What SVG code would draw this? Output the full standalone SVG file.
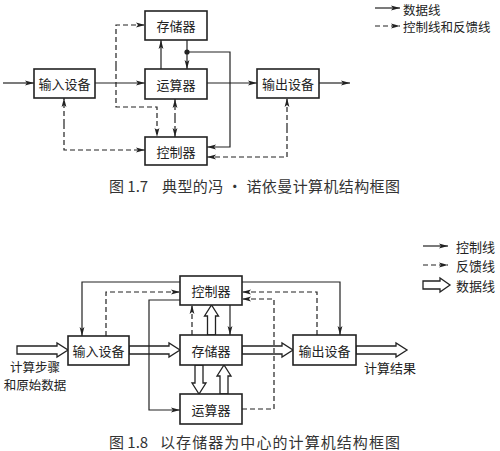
<svg xmlns="http://www.w3.org/2000/svg" width="500" height="451" viewBox="0 0 500 451">
<style>
.box{fill:#fff;stroke:#222;stroke-width:1.6}
.lbl{font-family:"Noto Sans CJK SC","Liberation Sans",sans-serif;font-size:13px;fill:#222;text-anchor:middle;dominant-baseline:central}
.txt{font-family:"Noto Sans CJK SC","Liberation Sans",sans-serif;font-size:13px;fill:#222;dominant-baseline:central}
.cap{font-family:"Noto Sans CJK SC","Liberation Serif",serif;font-size:15px;fill:#333;dominant-baseline:central}
.ln{fill:none;stroke:#222;stroke-width:1.2}
.sol{marker-end:url(#ah)}
.dash{stroke-dasharray:5 3}
.hol{fill:#fff;stroke:#222;stroke-width:1.3;stroke-linejoin:miter}
</style>
<defs>
<marker id="ah" markerUnits="userSpaceOnUse" markerWidth="10" markerHeight="6" refX="9" refY="3" orient="auto">
<path d="M0,0.6 L9,3 L0,5.4 L2,3 z" fill="#222"/>
</marker>
</defs>

<!-- Figure 1.7 -->
<g id="connectors-fig17">
<path class="ln sol" d="M3,83 H34"/>
<path class="ln sol" d="M95,83 H145"/>
<path class="ln sol" d="M207,83 H257"/>
<path class="ln sol" d="M319,83 H350"/>
<path class="ln sol" d="M161,69 V40"/>
<path class="ln sol" d="M187,40 V69"/>
<circle cx="187" cy="52" r="2.6" fill="#222"/>
<path class="ln sol" d="M187,52 H230 V147 H207"/>
<path class="ln dash sol" d="M116,66 V25 H145"/>
<path class="ln dash sol" d="M116,66 V107 H157 V137"/>
<path class="ln dash sol" d="M175,118 V99"/>
<path class="ln dash sol" d="M175,118 V137"/>
<path class="ln dash sol" d="M64,124 V98"/>
<path class="ln dash sol" d="M64,124 V150 H145"/>
<path class="ln dash sol" d="M287,128 V98"/>
<path class="ln dash sol" d="M287,128 V157 H207"/>
</g>
<g id="mem1"><rect class="box" x="145" y="11" width="62" height="29"/><text class="lbl" x="176" y="25.5">存储器</text></g>
<g id="alu1"><rect class="box" x="145" y="69" width="62" height="30"/><text class="lbl" x="176" y="84">运算器</text></g>
<g id="ctl1"><rect class="box" x="145" y="137" width="62" height="28"/><text class="lbl" x="176" y="151">控制器</text></g>
<g id="in1"><rect class="box" x="34" y="69" width="61" height="29"/><text class="lbl" x="64.5" y="83.5">输入设备</text></g>
<g id="out1"><rect class="box" x="257" y="69" width="62" height="29"/><text class="lbl" x="288" y="83.5">输出设备</text></g>
<g id="legend1">
<path class="ln sol" d="M375,8 H400"/>
<text class="txt" x="403" y="9" style="font-size:12.5px">数据线</text>
<path class="ln dash sol" d="M375,26 H400"/>
<text class="txt" x="403" y="26.5" style="font-size:12.5px">控制线和反馈线</text>
</g>
<text class="cap" x="109" y="185">图 1.7</text>
<text class="cap" x="162" y="185" textLength="238" lengthAdjust="spacing">典型的冯 · 诺依曼计算机结构框图</text>

<!-- Figure 1.8 -->
<g id="connectors-fig18">
<polygon class="hol" points="17,346 57,346 57,343 68,350 57,357 57,354 17,354"/>
<polygon class="hol" points="129,346 169,346 169,343 180,350 169,357 169,354 129,354"/>
<polygon class="hol" points="242,346 282,346 282,343 293,350 282,357 282,354 242,354"/>
<polygon class="hol" points="356,346 396,346 396,343 407,350 396,357 396,354 356,354"/>
<polygon class="hol" points="207.5,335 207.5,316 204.5,316 211.5,305 218.5,316 215.5,316 215.5,335"/>
<polygon class="hol" points="195,365 195,383 192,383 199,394 206,383 203,383 203,365"/>
<polygon class="hol" points="220,394 220,376 217,376 224,365 231,376 228,376 228,394"/>
<path class="ln sol" d="M230,305 V335"/>
<path class="ln dash sol" d="M192,335 V305"/>
<path class="ln sol" d="M180,282 H82 V336"/>
<path class="ln dash sol" d="M106,336 V292 H180"/>
<path class="ln sol" d="M180,300 H149 V410 H180"/>
<path class="ln sol" d="M242,282 H340 V335"/>
<path class="ln dash sol" d="M317,335 V292 H242"/>
<path class="ln dash sol" d="M242,409 H274 V299 H242"/>
</g>
<g id="ctl2"><rect class="box" x="180" y="276" width="62" height="29"/><text class="lbl" x="211" y="290.5">控制器</text></g>
<g id="mem2"><rect class="box" x="180" y="335" width="62" height="30"/><text class="lbl" x="211" y="350">存储器</text></g>
<g id="alu2"><rect class="box" x="180" y="394" width="62" height="30"/><text class="lbl" x="211" y="409">运算器</text></g>
<g id="in2"><rect class="box" x="68" y="336" width="61" height="29"/><text class="lbl" x="98.5" y="350.5">输入设备</text></g>
<g id="out2"><rect class="box" x="293" y="335" width="63" height="30"/><text class="lbl" x="324.5" y="350">输出设备</text></g>
<text class="lbl" x="35" y="366" style="font-size:12.5px">计算步骤</text>
<text class="lbl" x="35" y="384" style="font-size:12.5px">和原始数据</text>
<text class="txt" x="364" y="367">计算结果</text>
<g id="legend2">
<path class="ln sol" d="M423,246 H448"/>
<text class="txt" x="456" y="246">控制线</text>
<path class="ln dash sol" d="M423,265 H448"/>
<text class="txt" x="456" y="265">反馈线</text>
<polygon class="hol" points="423,281 440,281 440,278 450,285 440,292 440,289 423,289"/>
<text class="txt" x="456" y="285">数据线</text>
</g>
<text class="cap" x="109" y="441">图 1.8</text>
<text class="cap" x="160" y="441" textLength="240" lengthAdjust="spacing">以存储器为中心的计算机结构框图</text>
</svg>
